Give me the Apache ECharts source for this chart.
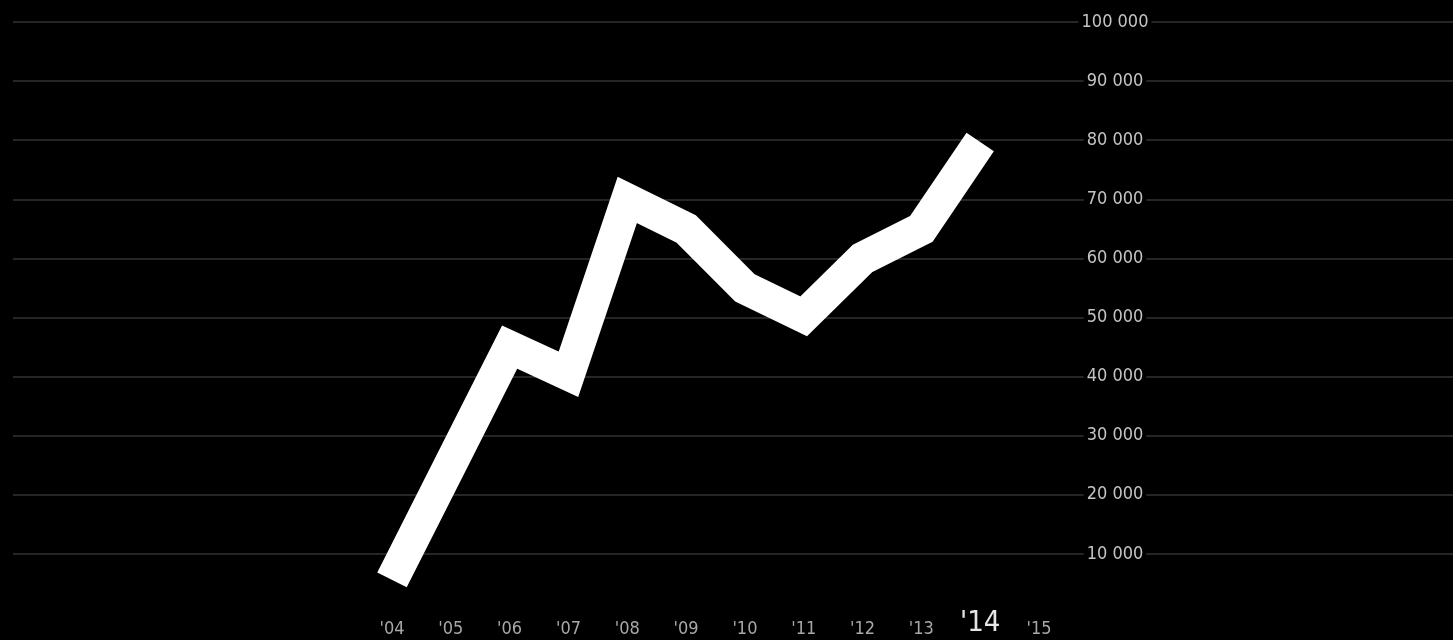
<!DOCTYPE html>
<html>
<head>
<meta charset="utf-8">
<style>
html,body{margin:0;padding:0;background:#000;}
#c{width:1453px;height:640px;}
</style>
<script src="https://cdn.jsdelivr.net/npm/echarts@6/dist/echarts.min.js"></script>
</head>
<body>
<div id="c"></div>
<script>
const years = ["'04","'05","'06","'07","'08","'09","'10","'11","'12","'13","'14","'15"];
const values = [5600, 25300, 45000, 40400, 69900, 65000, 55000, 50200, 60000, 65000, 79700, null];
const highlightYear = "'14";
const yTicks = [0, 10000, 20000, 30000, 40000, 50000, 60000, 70000, 80000, 90000, 100000];

const FONT = "'DejaVu Sans Condensed','DejaVu Sans',sans-serif";
const fmt = v => v === 0 ? '' : String(v).replace(/\B(?=(\d{3})+(?!\d))/g, ' ');

const catData = years.map(y => y === highlightYear
  ? {value: y, textStyle: {fontSize: 29, color: '#e6e6e6', fontFamily: FONT, verticalAlign: 'bottom'}}
  : y);

const gridColors = yTicks.map((v, i) => i === 0 ? 'rgba(0,0,0,0)' : '#333333');

const chart = echarts.init(document.getElementById('c'));
chart.setOption({
  backgroundColor: '#000',
  animation: false,
  grid: [
    {left: 13, right: 0, top: 22, bottom: 27, outerBoundsMode: 'none', containLabel: false},
    {left: 392, right: 414, top: 22, bottom: 27, outerBoundsMode: 'none', containLabel: false}
  ],
  xAxis: [
    {gridIndex: 0, type: 'value', min: 0, max: 1, show: false},
    {gridIndex: 1, type: 'category', data: catData, boundaryGap: false,
     axisLine: {show: false}, axisTick: {show: false}, splitLine: {show: false},
     axisLabel: {fontFamily: FONT, fontSize: 18, color: '#a8a8a8', margin: 25,
                 verticalAlign: 'bottom', interval: 0}}
  ],
  yAxis: [
    {gridIndex: 0, type: 'value', min: 0, max: 100000, interval: 10000,
     axisLine: {show: false}, axisTick: {show: false}, axisLabel: {show: false},
     splitLine: {show: true, lineStyle: {color: gridColors, width: 1.5}}},
    {gridIndex: 1, type: 'value', min: 0, max: 100000, interval: 10000, position: 'right',
     axisLine: {show: false}, axisTick: {show: false}, splitLine: {show: false},
     axisLabel: {formatter: fmt, fontFamily: FONT, fontSize: 18, color: '#c4c4c4',
                 align: 'center', margin: 76, backgroundColor: '#000', padding: [0, 3]}}
  ],
  series: [{
    type: 'line', xAxisIndex: 1, yAxisIndex: 1, data: values,
    showSymbol: false, clip: false, z: 5,
    lineStyle: {color: '#ffffff', width: 33, join: 'miter', cap: 'butt', miterLimit: 10}
  }]
});
</script>
</body>
</html>
